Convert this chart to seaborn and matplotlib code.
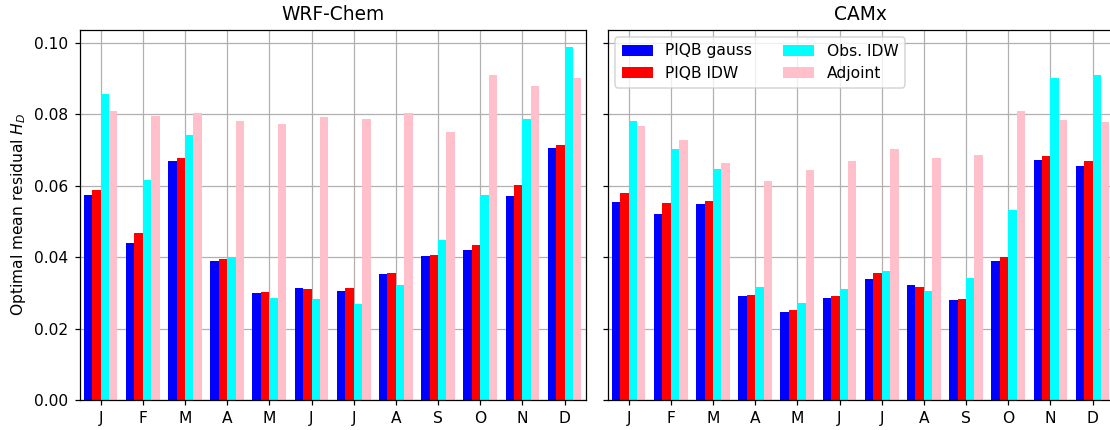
import numpy as np
import pandas as pd
import matplotlib
matplotlib.use("Agg")
import matplotlib.pyplot as plt
import seaborn as sns

months = ["J", "F", "M", "A", "M", "J", "J", "A", "S", "O", "N", "D"]
methods = ["PIQB gauss", "PIQB IDW", "Obs. IDW", "Adjoint"]
colors = ["blue", "red", "cyan", "pink"]

# WRF-Chem
wrf_piqb_gauss = [0.0573, 0.0439, 0.0668, 0.0389, 0.0299, 0.0313, 0.0305, 0.0352, 0.0403, 0.0419, 0.0570, 0.0705]
wrf_piqb_idw   = [0.0589, 0.0467, 0.0677, 0.0394, 0.0302, 0.0310, 0.0313, 0.0355, 0.0405, 0.0433, 0.0601, 0.0713]
wrf_obs_idw    = [0.0856, 0.0615, 0.0741, 0.0400, 0.0285, 0.0282, 0.0268, 0.0322, 0.0447, 0.0573, 0.0786, 0.0987]
wrf_adjoint    = [0.0808, 0.0794, 0.0802, 0.0780, 0.0772, 0.0791, 0.0786, 0.0802, 0.0749, 0.0909, 0.0878, 0.0900]

# CAMx
camx_piqb_gauss = [0.0554, 0.0520, 0.0548, 0.0291, 0.0246, 0.0285, 0.0338, 0.0322, 0.0280, 0.0389, 0.0671, 0.0654]
camx_piqb_idw   = [0.0579, 0.0551, 0.0556, 0.0294, 0.0252, 0.0291, 0.0355, 0.0316, 0.0282, 0.0400, 0.0682, 0.0668]
camx_obs_idw    = [0.0780, 0.0702, 0.0646, 0.0316, 0.0271, 0.0310, 0.0361, 0.0305, 0.0341, 0.0531, 0.0900, 0.0911]
camx_adjoint    = [0.0766, 0.0727, 0.0663, 0.0612, 0.0643, 0.0668, 0.0702, 0.0677, 0.0685, 0.0808, 0.0783, 0.0777]


def long_df(series_list):
    rows = []
    for meth, vals in zip(methods, series_list):
        for i, v in enumerate(vals):
            rows.append({"month": i, "method": meth, "value": v})
    return pd.DataFrame(rows)


df_wrf = long_df([wrf_piqb_gauss, wrf_piqb_idw, wrf_obs_idw, wrf_adjoint])
df_camx = long_df([camx_piqb_gauss, camx_piqb_idw, camx_obs_idw, camx_adjoint])

DPI = 112
W, H = 1110.0, 430.0
fig = plt.figure(figsize=(W / DPI, H / DPI), dpi=DPI)
axw = (585.7 - 79.5) / W
axh = (400 - 29.5) / H
y0 = (H - 400) / H
ax1 = fig.add_axes([79.5 / W, y0, axw, axh])
ax2 = fig.add_axes([607.5 / W, y0, axw, axh], sharey=ax1)

for ax, df, title, leg in [(ax1, df_wrf, "WRF-Chem", False), (ax2, df_camx, "CAMx", True)]:
    sns.barplot(data=df, x="month", y="value", hue="method", hue_order=methods,
                palette=colors, saturation=1, width=0.8, linewidth=0,
                errorbar=None, ax=ax, legend=leg)
    ax.set_axisbelow(True)
    ax.grid(True, color="#b0b0b0", linewidth=0.8)
    ax.set_xticks(range(12))
    ax.set_xticklabels(months)
    ax.set_xlim(-0.5, 11.5)
    ax.set_xlabel("")
    ax.set_title(title, fontsize=12)

ax1.set_ylabel("Optimal mean residual $H_D$")
ax2.set_ylabel("")
ax2.tick_params(labelleft=False)
ax1.set_ylim(0, 0.1037)

handles, labels = ax2.get_legend_handles_labels()
ax2.legend(handles, labels, ncol=2, loc="upper left", title=None)

fig.savefig("out.png", dpi=DPI)
